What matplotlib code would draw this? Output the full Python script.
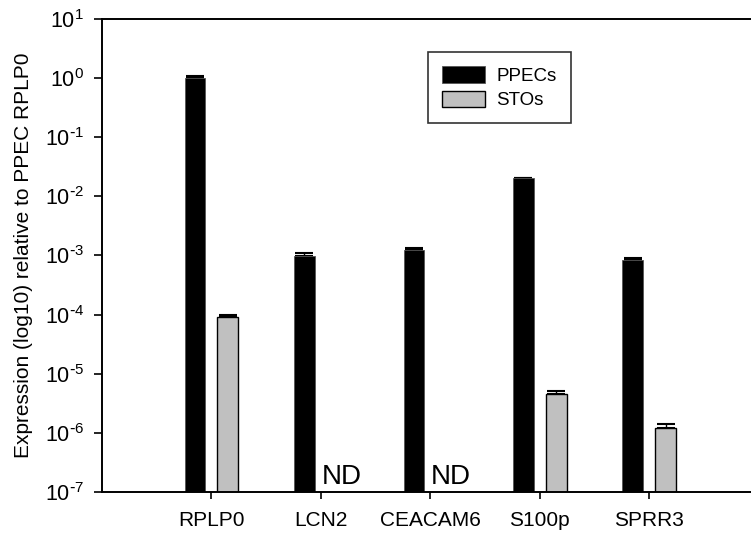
import numpy as np
import matplotlib
matplotlib.use('Agg')
import matplotlib.pyplot as plt

plt.rcParams['font.family'] = ['Liberation Sans', 'DejaVu Sans']
plt.rcParams['mathtext.default'] = 'regular'
plt.rcParams['axes.unicode_minus'] = False

# expression relative to PPEC RPLP0
genes = ['RPLP0', 'LCN2', 'CEACAM6', 'S100p', 'SPRR3']
ppec_vals = [1.0, 9.7e-4, 1.23e-3, 2.02e-2, 8.4e-4]
ppec_err = [0.1, 1.2e-4, 1.2e-4, 0.0, 7e-5]
# None = not detected
sto_vals = [9.0e-5, None, None, 4.6e-6, 1.22e-6]
sto_err = [8e-6, None, None, 5e-7, 1.8e-7]
y_exponents = [1, 0, -1, -2, -3, -4, -5, -6, -7]


def exp_label(e):
    # plain hyphen instead of the mathtext minus
    if e < 0:
        return f'$10^{{\\text{{-}}{-e}}}$'
    return f'$10^{{{e}}}$'


def main():
    fig = plt.figure(figsize=(7.51, 5.38), dpi=100)
    ax = fig.add_axes([0.1358, 0.0855, 0.8642, 0.8792])

    x = np.arange(1, len(genes) + 1)
    width = 0.19
    off = 0.15

    ax.bar(x - off, ppec_vals, width, color='black', edgecolor='#555555',
           linewidth=0.6, label='PPECs', zorder=2)
    ax.errorbar(x - off, ppec_vals, yerr=[np.zeros(len(x)), ppec_err],
                fmt='none', ecolor='black', elinewidth=1.0, capsize=6.5,
                capthick=1.5, zorder=1)

    sx = [xi + off for xi, v in zip(x, sto_vals) if v is not None]
    sv = [v for v in sto_vals if v is not None]
    se = [e for e in sto_err if e is not None]
    ax.bar(sx, sv, width, color='#c0c0c0', edgecolor='black', linewidth=1.0,
           label='STOs', zorder=2)
    ax.errorbar(sx, sv, yerr=[np.zeros(len(sx)), se], fmt='none',
                ecolor='black', elinewidth=1.0, capsize=6.5, capthick=1.5,
                zorder=1)

    for xi, v in zip(x, sto_vals):
        if v is None:
            ax.text(xi + off + 0.04, 1.1e-7, 'ND', ha='center', va='bottom',
                    fontsize=20)

    ax.set_yscale('log')
    ax.set_ylim(1e-7, 10)
    ax.set_xlim(0, 5.93)
    ax.set_yticks([10.0 ** e for e in y_exponents])
    ax.set_yticklabels([exp_label(e) for e in y_exponents])
    ax.yaxis.set_minor_locator(matplotlib.ticker.NullLocator())
    ax.set_xticks(x)
    ax.set_xticklabels(genes)

    ax.tick_params(axis='y', direction='out', length=6, width=1.2,
                   labelsize=15.5, pad=7)
    ax.tick_params(axis='x', direction='out', length=5, width=1.2,
                   labelsize=15, pad=9)
    ax.spines['right'].set_visible(False)
    for s in ['left', 'top', 'bottom']:
        ax.spines[s].set_linewidth(1.4)

    ax.set_ylabel('Expression (log10) relative to PPEC RPLP0', fontsize=15,
                  labelpad=8)

    leg = ax.legend(loc='upper left', bbox_to_anchor=(0.5023, 0.93),
                    fontsize=13.5, frameon=True, fancybox=False,
                    handlelength=2.3, handleheight=1.0, borderpad=0.75,
                    labelspacing=0.3, handletextpad=0.6, borderaxespad=0)
    leg.get_frame().set_edgecolor('black')
    leg.get_frame().set_linewidth(1.2)

    fig.savefig('out.png', dpi=100)


if __name__ == '__main__':
    main()
